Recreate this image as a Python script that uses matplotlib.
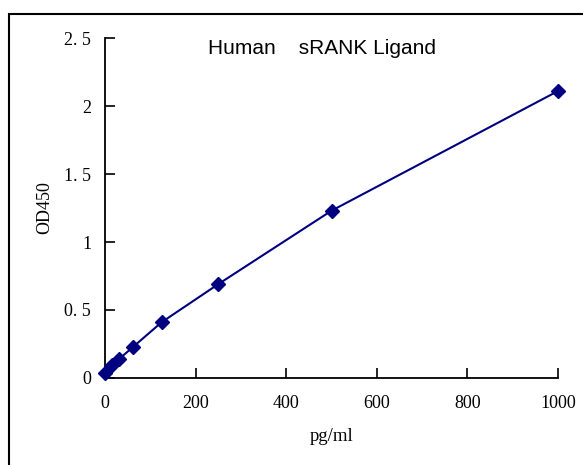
import matplotlib
matplotlib.use("Agg")
import matplotlib.pyplot as plt
from matplotlib.patches import Rectangle

conc = [0, 15.6, 31.25, 62.5, 125, 250, 500, 1000]
od = [0.037, 0.095, 0.14, 0.23, 0.41, 0.69, 1.23, 2.11]
xticks = [0, 200, 400, 600, 800, 1000]
yticks = [0, 0.5, 1, 1.5, 2, 2.5]
ytick_labels = ["0", "0. 5", "1", "1. 5", "2", "2. 5"]

serif = "Liberation Serif"
fig = plt.figure(figsize=(5.83, 4.65), dpi=100)
ax = fig.add_axes([105/583, 1-378/465, (558-105)/583, (378-38)/465])

ax.plot(conc, od, color="#000080", lw=1.5, marker="D", ms=7, mfc="#000080", mec="#000080",
        clip_on=False, zorder=3)

ax.set_xlim(0, 1000)
ax.set_ylim(0, 2.5)
ax.set_xticks(xticks)
ax.set_xticklabels([str(v) for v in xticks])
ax.set_yticks(yticks)
ax.set_yticklabels(ytick_labels)
for s in ["top", "right"]:
    ax.spines[s].set_visible(False)
for s in ["left", "bottom"]:
    ax.spines[s].set_linewidth(1.3)
ax.tick_params(direction="in", length=7, width=1.2, labelsize=13, pad=10)
for lab in ax.get_xticklabels() + ax.get_yticklabels():
    lab.set_fontfamily(serif)
ax.tick_params(axis="x", pad=12)

ax.set_xlabel("pg/ml", fontfamily=serif, fontsize=13.5, labelpad=12)
ax.set_ylabel("OD450", fontfamily=serif, fontsize=13, labelpad=8)
ax.text(0.48, 0.968, "Human    sRANK Ligand", transform=ax.transAxes, ha="center", va="center",
        fontfamily="Liberation Sans", fontsize=15)

fig.patches.append(Rectangle((9/583, -0.5), 2, 1.5 - 14/465, transform=fig.transFigure,
                             fill=False, lw=1.5, ec="black"))
fig.savefig("out.png", dpi=100)
